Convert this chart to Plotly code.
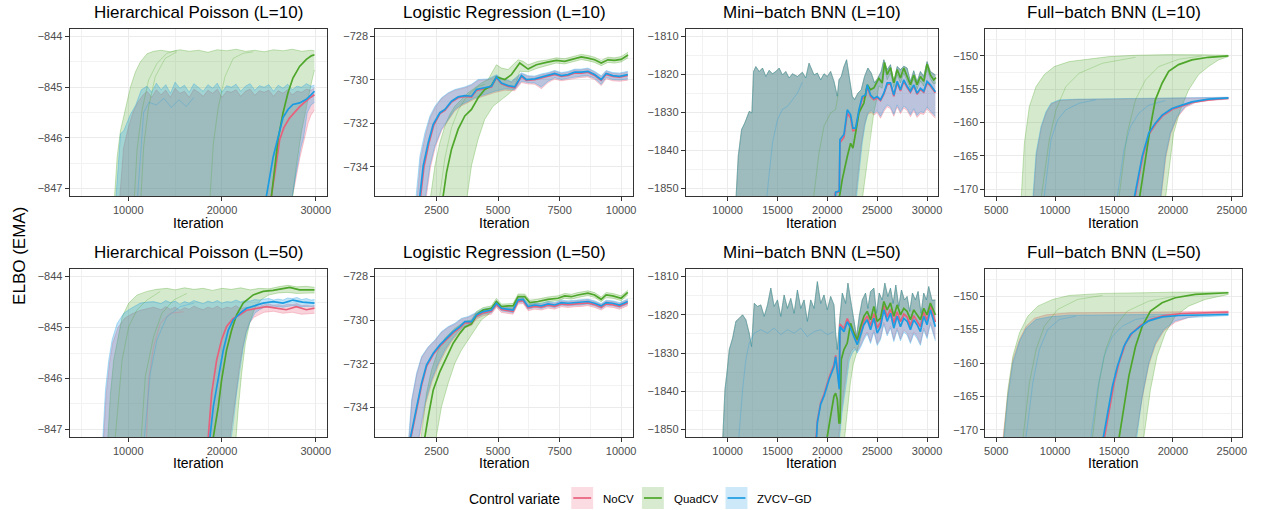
import plotly.graph_objects as go

FONT = "Liberation Sans, Arial, Helvetica, sans-serif"
SERIES = ["NoCV", "QuadCV", "ZVCV−GD"]
SERIES_COLORS = ["#E8617C", "#4EA62A", "#1B9CE2"]
FILL_ALPHA = [0.28, 0.24, 0.28]

# ---------------------------------------------------------------
# ELBO (EMA) traces as (iteration, value) pairs.
# *_MEAN: average over runs, *_HI / *_LO: ribbon envelope,
# *_RUN*: individual runs drawn faintly inside the envelope.
# ---------------------------------------------------------------

# Hierarchical Poisson, L=10
HP10_NOCV_MEAN = [(24900, -847.6), (25400, -847.03), (25800, -846.5), (26150, -846.04), (26600, -845.8), (27200, -845.61),
                  (27700, -845.5), (28270, -845.39), (28800, -845.3), (29300, -845.22), (29860, -845.15)]
HP10_NOCV_HI = [(9000, -847.4), (9500, -846.2), (10000, -845.8), (10500, -845.5), (11000, -845.3), (11600, -845.15),
                (12000, -845.08), (12500, -845.2), (13000, -845.05), (13500, -845.15), (14000, -845.06), (14500, -845.2),
                (15000, -845.02), (15500, -845.12), (16000, -845.08), (16500, -845.2), (17000, -845.04), (17500, -845.1),
                (18000, -845.18), (18500, -845.06), (19000, -845.12), (19500, -845.04), (20000, -845.2), (20500, -845.08),
                (21000, -845.1), (21500, -845.05), (22000, -845.18), (22500, -845.08), (23000, -845.04), (23500, -845.16),
                (24000, -845.07), (24500, -845.1), (25000, -845.06), (25500, -845.18), (26000, -845.07), (26500, -845.12),
                (27000, -845.05), (27500, -845.15), (28000, -845.08), (28500, -845.1), (29000, -845.04), (29500, -845.06),
                (29860, -845.02)]
HP10_NOCV_LO = [(27200, -847.4), (27800, -846.9), (28300, -846.4), (28700, -846.1), (29200, -845.7), (29500, -845.55),
                (29860, -845.45)]
HP10_QUAD_MEAN = [(25000, -847.6), (25270, -847.15), (25630, -846.56), (25980, -846.03), (26510, -845.51), (27040, -845.11),
                  (27570, -844.82), (28280, -844.59), (29000, -844.45), (29530, -844.38), (29860, -844.36)]
HP10_QUAD_HI = [(8455, -847.4), (8815, -846.38), (9170, -845.86), (9700, -845.4), (10230, -845.0), (10760, -844.7),
                (11290, -844.5), (12000, -844.34), (12700, -844.29), (13500, -844.27), (14500, -844.3), (15500, -844.26),
                (16500, -844.29), (17500, -844.27), (18500, -844.31), (19500, -844.26), (20500, -844.28), (21500, -844.25),
                (22500, -844.29), (23500, -844.27), (24500, -844.3), (25500, -844.26), (26500, -844.28), (27500, -844.25),
                (28500, -844.29), (29500, -844.27), (29860, -844.28)]
HP10_QUAD_LO = [(27400, -847.4), (27930, -846.56), (28460, -845.9), (29000, -845.37), (29530, -844.92), (29860, -844.66)]
HP10_QUAD_RUN1 = [(10580, -847.4), (10940, -846.24), (11470, -845.45), (12170, -844.86), (13060, -844.53), (14120, -844.33),
                  (15190, -844.27)]
HP10_QUAD_RUN2 = [(11290, -847.4), (11640, -846.18), (12170, -845.39), (12880, -844.79), (13940, -844.43), (15190, -844.3)]
HP10_QUAD_RUN3 = [(18650, -847.4), (19080, -846.11), (19610, -845.39), (20320, -844.79), (21200, -844.43), (22260, -844.33),
                  (23330, -844.3)]
HP10_ZVCV_MEAN = [(24500, -847.6), (24740, -847.15), (25450, -846.39), (25980, -846.0), (26510, -845.6), (27040, -845.44),
                  (27570, -845.34), (28280, -845.31), (29000, -845.24), (29500, -845.15), (29870, -845.08)]
HP10_ZVCV_HI = [(8600, -847.4), (9170, -845.92), (9520, -845.86), (10200, -845.55), (10800, -845.35), (11400, -845.05),
                (12000, -844.98), (12500, -845.1), (13000, -844.92), (13500, -845.05), (14000, -844.95), (14500, -845.12),
                (15000, -844.9), (15500, -845.02), (16000, -844.96), (16500, -845.1), (17000, -844.93), (17500, -845.0),
                (18000, -845.08), (18500, -844.95), (19000, -845.02), (19500, -844.92), (20000, -845.1), (20500, -844.97),
                (21000, -845.0), (21500, -844.94), (22000, -845.08), (22500, -844.98), (23000, -844.93), (23500, -845.06),
                (24000, -844.97), (24500, -845.0), (25000, -844.95), (25500, -845.08), (26000, -844.96), (26500, -845.02),
                (27000, -844.94), (27500, -845.05), (28000, -844.98), (28500, -845.0), (29000, -844.93), (29500, -844.98),
                (29860, -844.96)]
HP10_ZVCV_LO = [(27300, -847.4), (27800, -846.8), (28400, -846.2), (28700, -846.0), (29100, -845.5), (29500, -845.35),
                (29860, -845.3)]
HP10_ZVCV_RUN1 = [(10900, -847.4), (11300, -846.3), (11640, -845.5), (12200, -845.3), (13000, -845.35), (13800, -845.22),
                  (14600, -845.4), (15400, -845.25), (16200, -845.38), (17000, -845.2)]

# Hierarchical Poisson, L=50
HP50_NOCV_MEAN = [(18400, -847.6), (18540, -847.15), (18900, -846.29), (19430, -845.64), (19960, -845.24), (20490, -844.98),
                  (21200, -844.82), (21910, -844.75), (22620, -844.66), (23680, -844.62), (24740, -844.59), (25800, -844.62),
                  (26860, -844.65), (27930, -844.59), (29000, -844.65), (29870, -844.62)]
HP50_NOCV_HI = [(7300, -847.4), (7650, -846.3), (8000, -845.7), (8350, -845.3), (8900, -845.0), (9600, -844.82),
                (10300, -844.74), (11300, -844.66), (12000, -844.63), (12700, -844.6), (13500, -844.65), (14000, -844.59),
                (14500, -844.64), (15000, -844.6), (15500, -844.66), (16000, -844.61), (16500, -844.64), (17000, -844.58),
                (17500, -844.62), (18000, -844.65), (18500, -844.6), (19000, -844.63), (19500, -844.58), (20000, -844.64),
                (20500, -844.6), (21000, -844.62), (21500, -844.57), (22000, -844.63), (22500, -844.6), (23000, -844.6),
                (23500, -844.57), (24000, -844.58), (24500, -844.55), (25000, -844.54), (25500, -844.56), (26000, -844.55),
                (26500, -844.57), (27000, -844.54), (27500, -844.55), (28000, -844.53), (28500, -844.57), (29000, -844.56),
                (29500, -844.58), (29870, -844.57)]
HP50_NOCV_LO = [(20700, -847.4), (21100, -846.9), (21500, -846.3), (21850, -845.8), (22200, -845.4), (22550, -845.1),
                (22900, -844.92), (23400, -844.8), (24000, -844.74), (24500, -844.7), (25500, -844.68), (26500, -844.72),
                (27500, -844.7), (28500, -844.74), (29870, -844.72)]
HP50_NOCV_RUN1 = [(11900, -847.4), (12170, -846.03), (12700, -845.38), (13410, -844.92), (14470, -844.72), (15890, -844.69)]
HP50_QUAD_MEAN = [(18900, -847.6), (19080, -847.15), (19610, -846.55), (19960, -846.03), (20490, -845.44), (21030, -845.05),
                  (21560, -844.75), (22260, -844.52), (23330, -844.36), (24390, -844.29), (25450, -844.27), (26510, -844.23),
                  (27220, -844.21), (28280, -844.26), (29870, -844.26)]
HP50_QUAD_HI = [(7750, -847.4), (8100, -846.3), (8450, -845.64), (8815, -845.31), (9350, -844.79), (10050, -844.52),
                (10940, -844.36), (12000, -844.29), (13000, -844.25), (14120, -844.23), (15000, -844.26), (16000, -844.22),
                (17000, -844.25), (18000, -844.23), (19000, -844.27), (20000, -844.23), (21000, -844.25), (22000, -844.22),
                (23000, -844.26), (24000, -844.23), (25000, -844.24), (26000, -844.2), (27000, -844.17), (28000, -844.2),
                (29000, -844.19), (29870, -844.21)]
HP50_QUAD_LO = [(21400, -847.4), (21730, -846.6), (22100, -845.9), (22500, -845.3), (22970, -844.9), (23500, -844.62),
                (24200, -844.45), (25000, -844.36), (26000, -844.32), (27000, -844.31), (28000, -844.33), (29000, -844.32),
                (29870, -844.32)]
HP50_QUAD_RUN1 = [(8500, -847.4), (9340, -845.64), (10050, -844.98), (10940, -844.65), (12000, -844.46), (13410, -844.29)]
HP50_QUAD_RUN2 = [(11300, -847.4), (11820, -845.96), (12700, -845.18), (13590, -844.72), (14830, -844.46), (16250, -844.33)]
HP50_ZVCV_MEAN = [(18600, -847.6), (18720, -847.15), (19080, -846.55), (19610, -845.96), (20140, -845.44), (20670, -845.05),
                  (21200, -844.85), (21910, -844.72), (22620, -844.62), (23680, -844.56), (24390, -844.52), (25450, -844.49),
                  (26510, -844.52), (27570, -844.46), (28600, -844.5), (29870, -844.52)]
HP50_ZVCV_HI = [(7220, -847.4), (7570, -846.22), (7920, -845.64), (8280, -845.24), (8815, -844.92), (9520, -844.72),
                (10230, -844.63), (11290, -844.52), (12000, -844.5), (12700, -844.49), (13500, -844.53), (14000, -844.47),
                (14500, -844.51), (15000, -844.48), (15500, -844.54), (16000, -844.49), (16500, -844.52), (17000, -844.47),
                (17500, -844.5), (18000, -844.53), (18500, -844.48), (19000, -844.51), (19500, -844.47), (20000, -844.52),
                (20500, -844.49), (21000, -844.5), (21500, -844.46), (22000, -844.5), (22500, -844.47), (23000, -844.48),
                (23500, -844.45), (24000, -844.46), (24500, -844.44), (25000, -844.43), (25500, -844.46), (26000, -844.44),
                (26500, -844.46), (27000, -844.42), (27500, -844.43), (28000, -844.41), (28500, -844.45), (29000, -844.43),
                (29500, -844.46), (29870, -844.45)]
HP50_ZVCV_LO = [(20800, -847.4), (21200, -846.9), (21550, -846.3), (21900, -845.8), (22260, -845.4), (22600, -845.1),
                (22970, -844.9), (23500, -844.72), (24000, -844.65), (24500, -844.6), (25500, -844.58), (26500, -844.6),
                (27500, -844.57), (28500, -844.59), (29870, -844.58)]
HP50_ZVCV_RUN1 = [(11600, -847.4), (12350, -845.9), (13060, -845.24), (14120, -844.79), (15540, -844.59), (17000, -844.52)]

# Logistic Regression, L=10
LR10_NOCV_MEAN = [(1830, -735.6), (1990, -734.0), (2190, -732.92), (2390, -732.08), (2637, -731.55), (2840, -731.4),
                  (3110, -731.02), (3380, -730.82), (3650, -730.76), (3920, -730.79), (4122, -730.48), (4393, -730.41),
                  (4730, -730.33), (4933, -729.9), (5136, -730.18), (5407, -730.3), (5679, -730.36), (5949, -729.84),
                  (6150, -730.02), (6490, -729.99), (6760, -729.9), (7030, -729.84), (7300, -729.74), (7570, -729.84),
                  (7840, -729.79), (8110, -729.68), (8380, -729.68), (8650, -729.64), (8920, -729.79), (9190, -730.02),
                  (9390, -729.74), (9660, -729.84), (9935, -729.87), (10270, -729.79)]
LR10_NOCV_HI = [(1700, -735.6), (1860, -733.6), (2060, -732.5), (2250, -731.72), (2450, -731.27), (2705, -730.86),
                (2975, -730.63), (3245, -730.48), (3650, -730.36), (3920, -730.24), (4190, -730.02), (4595, -729.99),
                (4933, -729.8), (5136, -729.95), (5540, -730.1), (5949, -729.71), (6220, -729.84), (6490, -729.86),
                (6760, -729.76), (7030, -729.7), (7300, -729.6), (7570, -729.7), (7840, -729.65), (8110, -729.54),
                (8380, -729.54), (8650, -729.49), (8920, -729.64), (9190, -729.84), (9390, -729.6), (9660, -729.7),
                (9935, -729.72), (10270, -729.64)]
LR10_NOCV_LO = [(2060, -735.6), (2250, -734.05), (2450, -733.1), (2705, -732.33), (2975, -731.87), (3245, -731.42),
                (3515, -731.19), (3785, -731.04), (4055, -730.88), (4460, -730.73), (4865, -730.58), (5274, -730.47),
                (5679, -730.5), (5949, -730.12), (6220, -730.18), (6490, -730.2), (6760, -730.4), (7030, -730.12),
                (7300, -729.96), (7570, -730.04), (7840, -729.98), (8110, -729.92), (8380, -729.88), (8650, -729.86),
                (8920, -729.98), (9190, -730.26), (9390, -729.94), (9660, -730.04), (9935, -730.06), (10270, -730.01)]
LR10_QUAD_MEAN = [(2700, -735.6), (2773, -735.33), (2908, -734.26), (3110, -733.19), (3380, -732.27), (3650, -731.66),
                  (3920, -731.36), (4190, -730.82), (4460, -730.44), (4730, -730.26), (4933, -729.86), (5274, -729.98),
                  (5540, -729.76), (5880, -729.22), (6220, -729.5), (6555, -729.3), (6960, -729.19), (7365, -729.1),
                  (7705, -729.14), (8110, -729.02), (8380, -728.94), (8650, -728.99), (8920, -729.07), (9190, -729.22),
                  (9460, -729.07), (9730, -729.1), (10000, -729.05), (10280, -728.85)]
LR10_QUAD_HI = [(2233, -735.6), (2436, -733.95), (2637, -732.88), (2840, -732.12), (3043, -731.58), (3245, -731.21),
                (3515, -730.9), (3785, -730.59), (4055, -730.37), (4325, -730.14), (4595, -729.98), (4933, -729.3),
                (5136, -729.45), (5407, -729.52), (5814, -729.07), (6015, -729.14), (6220, -729.3), (6625, -729.14),
                (7030, -729.07), (7365, -728.98), (7705, -729.02), (8110, -728.9), (8380, -728.82), (8650, -728.87),
                (8920, -728.95), (9190, -729.1), (9460, -728.95), (9730, -728.98), (10000, -728.92), (10280, -728.72)]
LR10_QUAD_LO = [(3717, -735.6), (3920, -733.95), (4190, -732.73), (4460, -731.81), (4798, -731.21), (5136, -730.9),
                (5407, -730.67), (5679, -730.37), (5880, -729.6), (6220, -729.62), (6625, -729.45), (7030, -729.32),
                (7365, -729.22), (7705, -729.26), (8110, -729.14), (8380, -729.06), (8650, -729.11), (8920, -729.19),
                (9190, -729.34), (9460, -729.19), (9730, -729.22), (10000, -729.17), (10280, -728.98)]
LR10_ZVCV_MEAN = [(1800, -735.6), (1960, -733.95), (2165, -732.88), (2367, -732.04), (2637, -731.51), (2840, -731.36),
                  (3110, -730.98), (3380, -730.78), (3650, -730.72), (3920, -730.75), (4122, -730.44), (4393, -730.37),
                  (4730, -730.29), (4933, -729.86), (5136, -730.14), (5407, -730.26), (5679, -730.32), (5949, -729.8),
                  (6150, -729.98), (6490, -729.95), (6760, -729.86), (7030, -729.8), (7300, -729.7), (7570, -729.8),
                  (7840, -729.75), (8110, -729.64), (8380, -729.64), (8650, -729.6), (8920, -729.75), (9190, -729.98),
                  (9390, -729.7), (9660, -729.8), (9935, -729.83), (10270, -729.75)]
LR10_ZVCV_HI = [(1650, -735.6), (1827, -733.5), (2030, -732.43), (2233, -731.66), (2436, -731.21), (2705, -730.82),
                (2975, -730.59), (3245, -730.44), (3650, -730.32), (3920, -730.2), (4190, -729.98), (4595, -729.95),
                (4933, -729.76), (5136, -729.91), (5540, -730.06), (5949, -729.67), (6220, -729.8), (6490, -729.82),
                (6760, -729.72), (7030, -729.66), (7300, -729.56), (7570, -729.66), (7840, -729.61), (8110, -729.5),
                (8380, -729.5), (8650, -729.45), (8920, -729.6), (9190, -729.8), (9390, -729.56), (9660, -729.66),
                (9935, -729.68), (10270, -729.6)]
LR10_ZVCV_LO = [(2030, -735.6), (2233, -733.95), (2436, -733.03), (2705, -732.27), (2975, -731.81), (3245, -731.36),
                (3515, -731.13), (3785, -730.98), (4055, -730.82), (4460, -730.67), (4865, -730.52), (5274, -730.41),
                (5679, -730.44), (5949, -730.06), (6220, -730.12), (6490, -730.14), (6760, -730.32), (7030, -730.06),
                (7300, -729.9), (7570, -729.98), (7840, -729.92), (8110, -729.86), (8380, -729.82), (8650, -729.8),
                (8920, -729.92), (9190, -730.2), (9390, -729.88), (9660, -729.98), (9935, -730.0), (10270, -729.95)]
LR10_QUAD_RUN1 = [(2600, -735.6), (2840, -733.6), (3110, -732.2), (3380, -731.4), (3650, -730.9), (3920, -730.55),
                  (4190, -730.3), (4460, -730.2)]

# Logistic Regression, L=50
LR50_NOCV_MEAN = [(1420, -735.6), (1700, -734.02), (1900, -732.95), (2100, -732.1), (2367, -731.57), (2637, -731.19),
                  (2908, -730.88), (3178, -730.58), (3448, -730.35), (3650, -730.12), (3920, -730.12), (4122, -729.81),
                  (4393, -729.66), (4730, -729.59), (4933, -729.28), (5136, -729.51), (5407, -729.56), (5610, -729.59),
                  (5813, -729.13), (6015, -729.1), (6220, -729.43), (6490, -729.36), (6760, -729.4), (7030, -729.31),
                  (7300, -729.36), (7570, -729.25), (7840, -729.28), (8110, -729.25), (8380, -729.25), (8650, -729.2),
                  (8920, -729.28), (9190, -729.4), (9390, -729.25), (9660, -729.28), (9935, -729.36), (10270, -729.2)]
LR50_NOCV_HI = [(1380, -735.6), (1500, -733.7), (1700, -732.48), (1900, -731.7), (2165, -731.25), (2436, -730.94),
                (2705, -730.56), (2975, -730.33), (3245, -730.18), (3515, -729.95), (3785, -729.87), (4055, -729.72),
                (4393, -729.52), (4730, -729.46), (4933, -729.14), (5136, -729.38), (5407, -729.43), (5610, -729.46),
                (5813, -729.0), (6015, -728.97), (6220, -729.3), (6490, -729.23), (6760, -729.27), (7030, -729.18),
                (7300, -729.23), (7570, -729.12), (7840, -729.15), (8110, -729.12), (8380, -729.12), (8650, -729.07),
                (8920, -729.15), (9190, -729.27), (9390, -729.12), (9660, -729.15), (9935, -729.23), (10270, -729.07)]
LR50_NOCV_LO = [(1780, -735.6), (2050, -733.87), (2320, -732.8), (2590, -732.04), (2860, -731.43), (3110, -730.97),
                (3380, -730.59), (3650, -730.33), (3920, -730.24), (4122, -729.94), (4393, -729.79), (4730, -729.72),
                (4933, -729.41), (5136, -729.64), (5407, -729.69), (5610, -729.72), (5813, -729.26), (6015, -729.23),
                (6220, -729.56), (6490, -729.49), (6760, -729.53), (7030, -729.44), (7300, -729.49), (7570, -729.38),
                (7840, -729.41), (8110, -729.38), (8380, -729.38), (8650, -729.33), (8920, -729.41), (9190, -729.53),
                (9390, -729.38), (9660, -729.41), (9935, -729.49), (10270, -729.33)]
LR50_QUAD_MEAN = [(1950, -735.6), (2030, -735.33), (2165, -734.41), (2367, -733.19), (2637, -732.35), (2908, -731.66),
                  (3178, -731.05), (3448, -730.6), (3650, -730.32), (3920, -730.17), (4122, -729.75), (4393, -729.53),
                  (4730, -729.45), (4933, -729.14), (5136, -729.37), (5407, -729.34), (5610, -729.34), (5813, -728.92),
                  (6085, -728.92), (6285, -729.19), (6625, -729.14), (7030, -729.04), (7435, -728.99), (7705, -728.88),
                  (7975, -728.92), (8245, -728.84), (8650, -728.76), (8920, -728.84), (9190, -729.04), (9390, -728.84),
                  (9660, -728.88), (10000, -728.99), (10270, -728.72)]
LR50_QUAD_HI = [(1850, -735.6), (2096, -733.33), (2300, -732.27), (2570, -731.36), (2840, -730.82), (3245, -730.37),
                (3650, -730.06), (3920, -729.98), (4122, -729.6), (4393, -729.42), (4730, -729.34), (4933, -729.0),
                (5136, -729.26), (5407, -729.23), (5610, -729.23), (5813, -728.8), (6085, -728.8), (6285, -729.08),
                (6625, -729.03), (7030, -728.93), (7435, -728.88), (7705, -728.77), (7975, -728.81), (8245, -728.73),
                (8650, -728.65), (8920, -728.73), (9190, -728.93), (9390, -728.73), (9660, -728.77), (10000, -728.88),
                (10270, -728.62)]
LR50_QUAD_LO = [(2450, -735.6), (2705, -733.95), (2975, -732.88), (3245, -731.97), (3515, -731.36), (3785, -730.9),
                (4055, -730.44), (4325, -729.98), (4595, -729.75), (4933, -729.28), (5136, -729.48), (5407, -729.45),
                (5610, -729.45), (5813, -729.04), (6085, -729.04), (6285, -729.3), (6625, -729.25), (7030, -729.15),
                (7435, -729.1), (7705, -728.99), (7975, -729.03), (8245, -728.95), (8650, -728.87), (8920, -728.95),
                (9190, -729.15), (9390, -728.95), (9660, -728.99), (10000, -729.1), (10270, -728.84)]
LR50_ZVCV_MEAN = [(1400, -735.6), (1690, -733.95), (1893, -732.88), (2096, -732.04), (2367, -731.51), (2637, -731.13),
                  (2908, -730.82), (3178, -730.52), (3448, -730.29), (3650, -730.06), (3920, -730.06), (4122, -729.75),
                  (4393, -729.6), (4730, -729.53), (4933, -729.22), (5136, -729.45), (5407, -729.5), (5610, -729.53),
                  (5813, -729.07), (6015, -729.04), (6220, -729.37), (6490, -729.3), (6760, -729.34), (7030, -729.25),
                  (7300, -729.3), (7570, -729.19), (7840, -729.22), (8110, -729.19), (8380, -729.19), (8650, -729.14),
                  (8920, -729.22), (9190, -729.34), (9390, -729.19), (9660, -729.22), (9935, -729.3), (10270, -729.14)]
LR50_ZVCV_HI = [(1354, -735.6), (1488, -733.65), (1690, -732.43), (1893, -731.66), (2165, -731.21), (2436, -730.9),
                (2705, -730.52), (2975, -730.29), (3245, -730.14), (3515, -729.91), (3785, -729.83), (4055, -729.68),
                (4393, -729.48), (4730, -729.42), (4933, -729.1), (5136, -729.34), (5407, -729.39), (5610, -729.42),
                (5813, -728.96), (6015, -728.93), (6220, -729.26), (6490, -729.19), (6760, -729.23), (7030, -729.14),
                (7300, -729.19), (7570, -729.08), (7840, -729.11), (8110, -729.08), (8380, -729.08), (8650, -729.03),
                (8920, -729.11), (9190, -729.23), (9390, -729.08), (9660, -729.11), (9935, -729.19), (10270, -729.03)]
LR50_ZVCV_LO = [(1750, -735.6), (2030, -733.8), (2300, -732.73), (2570, -731.97), (2840, -731.36), (3110, -730.9),
                (3380, -730.52), (3650, -730.26), (3920, -730.17), (4122, -729.87), (4393, -729.72), (4730, -729.65),
                (4933, -729.34), (5136, -729.57), (5407, -729.62), (5610, -729.65), (5813, -729.19), (6015, -729.16),
                (6220, -729.49), (6490, -729.42), (6760, -729.46), (7030, -729.37), (7300, -729.42), (7570, -729.31),
                (7840, -729.34), (8110, -729.31), (8380, -729.31), (8650, -729.26), (8920, -729.34), (9190, -729.46),
                (9390, -729.31), (9660, -729.34), (9935, -729.42), (10270, -729.26)]

# Mini-batch BNN, L=10 (runs share the same upper envelope)
MB10_TOP = [(10833, -1853.0), (11067, -1841.5), (11400, -1834.5), (11733, -1832.7), (12167, -1829.7), (12433, -1830.1),
            (12600, -1819.2), (12833, -1817.9), (13167, -1819.2), (13500, -1818.3), (13833, -1820.5), (14167, -1818.9),
            (14500, -1819.8), (14833, -1819.2), (15167, -1818.3), (15500, -1820.1), (15833, -1819.2), (16167, -1820.9),
            (16500, -1819.8), (17000, -1820.5), (17500, -1819.4), (17833, -1820.9), (18167, -1817.0), (18667, -1820.1),
            (19000, -1819.6), (19333, -1821.4), (19667, -1819.8), (20000, -1820.5), (20333, -1819.2), (20667, -1821.8),
            (21000, -1825.7), (21167, -1821.4), (21400, -1820.5), (21667, -1817.9), (21933, -1816.1), (22167, -1820.1),
            (22500, -1825.7), (22733, -1826.6), (23067, -1824.9), (23400, -1824.0), (23733, -1820.5), (24067, -1818.3),
            (24400, -1819.6), (24733, -1822.2), (25067, -1820.9), (25400, -1819.2), (25667, -1816.1), (26000, -1818.7),
            (26333, -1817.4), (26667, -1822.2), (27000, -1817.9), (27333, -1818.7), (27667, -1817.8), (28000, -1818.3),
            (28333, -1821.8), (28667, -1819.0), (29000, -1821.9), (29333, -1819.2), (29667, -1820.5), (30000, -1816.6),
            (30333, -1819.2), (30833, -1820.1)]
MB10_NOCV_MEAN = [(20700, -1853.0), (20800, -1851.2), (21200, -1850.9), (21267, -1838.0), (21667, -1836.5), (22000, -1830.2),
                  (22333, -1831.4), (22567, -1834.8), (22833, -1834.6), (23167, -1829.8), (23500, -1826.3), (23833, -1825.8),
                  (24000, -1823.2), (24333, -1825.8), (24667, -1826.6), (25000, -1826.1), (25333, -1826.9), (25667, -1825.2),
                  (26000, -1822.6), (26333, -1822.5), (26667, -1825.7), (27000, -1822.2), (27333, -1824.3), (27667, -1821.8),
                  (28000, -1823.4), (28333, -1824.7), (28667, -1823.0), (29000, -1825.2), (29333, -1823.9), (29667, -1824.7),
                  (30000, -1822.2), (30333, -1823.0), (30833, -1824.8)]
MB10_NOCV_LO = [(22800, -1853.0), (23100, -1845.5), (23400, -1838.5), (23700, -1833.5), (24000, -1830.6), (24400, -1830.0),
                (24667, -1830.7), (25000, -1830.0), (25333, -1831.5), (25667, -1829.7), (26000, -1828.5), (26333, -1829.0),
                (26667, -1831.0), (27000, -1828.5), (27333, -1830.3), (27667, -1828.8), (28000, -1829.5), (28333, -1831.1),
                (28667, -1829.5), (29000, -1831.3), (29333, -1830.3), (29667, -1830.5), (30000, -1829.0), (30333, -1830.1),
                (30833, -1831.5)]
MB10_QUAD_MEAN = [(21100, -1853.0), (21267, -1851.5), (21500, -1847.6), (21833, -1843.2), (22000, -1841.6), (22333, -1838.1),
                  (22567, -1839.4), (22833, -1835.4), (23167, -1830.1), (23667, -1827.5), (24000, -1822.7), (24333, -1824.0),
                  (24667, -1823.5), (25167, -1821.0), (25500, -1822.2), (25733, -1816.8), (26000, -1820.0), (26333, -1818.2),
                  (26667, -1822.2), (27000, -1818.7), (27333, -1820.9), (27667, -1818.3), (28000, -1820.5), (28333, -1822.7),
                  (28667, -1820.1), (29000, -1822.7), (29333, -1820.5), (29667, -1821.8), (30000, -1817.2), (30333, -1820.1),
                  (30667, -1821.4), (30900, -1820.8)]
MB10_QUAD_LO = [(23500, -1853.0), (23900, -1845.0), (24200, -1838.0), (24400, -1835.0), (24667, -1830.0), (25000, -1826.0),
                (25167, -1823.0), (25500, -1823.6), (25733, -1818.2), (26000, -1821.4), (26333, -1819.6), (26667, -1823.4),
                (27000, -1820.0), (27333, -1822.2), (27667, -1819.6), (28000, -1821.7), (28333, -1823.8), (28667, -1821.2),
                (29000, -1823.8), (29333, -1821.7), (29667, -1823.0), (30000, -1818.5), (30333, -1821.2), (30667, -1822.5),
                (30900, -1822.2)]
MB10_QUAD_RUN1 = [(18600, -1853.0), (19167, -1840.6), (19667, -1833.6), (20333, -1830.1), (20833, -1829.2), (21100, -1825.0)]
MB10_ZVCV_MEAN = [(20800, -1853.0), (20833, -1851.0), (21200, -1850.7), (21267, -1837.1), (21667, -1835.8), (22000, -1829.3),
                  (22333, -1830.6), (22567, -1834.1), (22833, -1834.1), (23167, -1829.3), (23500, -1825.8), (23833, -1825.4),
                  (24000, -1822.7), (24333, -1825.4), (24667, -1826.3), (25000, -1825.8), (25333, -1826.6), (25667, -1824.9),
                  (26000, -1822.2), (26333, -1822.2), (26667, -1825.4), (27000, -1821.8), (27333, -1824.0), (27667, -1821.4),
                  (28000, -1823.1), (28333, -1824.4), (28667, -1822.7), (29000, -1824.9), (29333, -1823.6), (29667, -1824.4),
                  (30000, -1821.8), (30333, -1822.7), (30833, -1824.5)]
MB10_ZVCV_LO = [(22900, -1853.0), (23200, -1845.0), (23500, -1838.0), (23800, -1833.0), (24100, -1830.0), (24400, -1829.5),
                (24667, -1830.2), (25000, -1829.5), (25333, -1831.0), (25667, -1829.2), (26000, -1828.0), (26333, -1828.5),
                (26667, -1830.5), (27000, -1828.0), (27333, -1829.8), (27667, -1828.3), (28000, -1829.0), (28333, -1830.6),
                (28667, -1829.0), (29000, -1830.8), (29333, -1829.8), (29667, -1830.0), (30000, -1828.5), (30333, -1829.6),
                (30833, -1831.0)]
MB10_ZVCV_RUN1 = [(13900, -1853.0), (14500, -1838.0), (15000, -1831.9), (15500, -1829.2), (16000, -1828.4), (16500, -1826.6),
                  (17000, -1824.9), (17500, -1822.0)]

# Mini-batch BNN, L=50 (runs share the same upper envelope)
MB50_TOP = [(9500, -1853.0), (9733, -1839.6), (9933, -1835.2), (10167, -1829.1), (10500, -1826.1), (10833, -1821.7),
            (11167, -1820.9), (11500, -1820.0), (11833, -1821.3), (12167, -1824.8), (12400, -1828.3), (12667, -1817.0),
            (13000, -1817.8), (13333, -1817.4), (13667, -1820.4), (14000, -1817.4), (14333, -1813.0), (14667, -1817.8),
            (15000, -1816.1), (15333, -1820.4), (15667, -1814.8), (16000, -1818.3), (16333, -1815.7), (16667, -1819.6),
            (17000, -1813.5), (17333, -1818.3), (17667, -1816.1), (18000, -1821.7), (18333, -1816.1), (18667, -1818.3),
            (19000, -1811.3), (19333, -1817.0), (19667, -1814.8), (20000, -1818.7), (20333, -1815.2), (20667, -1817.4),
            (20833, -1824.8), (21000, -1829.1), (21267, -1820.4), (21500, -1814.3), (21833, -1817.0), (22067, -1811.7),
            (22333, -1816.1), (22667, -1821.3), (22933, -1825.7), (23200, -1820.4), (23500, -1816.1), (23833, -1814.3),
            (24067, -1818.3), (24333, -1813.9), (24667, -1813.0), (24933, -1819.6), (25200, -1814.3), (25500, -1816.1),
            (25767, -1811.7), (26067, -1815.2), (26333, -1813.0), (26600, -1817.0), (26867, -1812.2), (27167, -1817.8),
            (27433, -1813.5), (27733, -1816.1), (28000, -1815.2), (28267, -1819.1), (28533, -1814.3), (28833, -1816.1),
            (29100, -1813.9), (29400, -1819.6), (29667, -1814.3), (29933, -1816.1), (30167, -1812.6), (30500, -1816.2),
            (30833, -1816.1)]
MB50_NOCV_MEAN = [(18800, -1853.0), (18900, -1851.5), (19000, -1847.8), (19333, -1843.0), (19667, -1840.8), (20167, -1836.5),
                  (20667, -1833.0), (20833, -1830.6), (21000, -1834.0), (21167, -1838.2), (21200, -1839.0), (21267, -1822.4),
                  (21667, -1823.6), (22000, -1821.0), (22333, -1822.7), (22667, -1824.6), (23000, -1826.8), (23333, -1824.2),
                  (23667, -1821.6), (24000, -1820.3), (24333, -1822.8), (24667, -1819.7), (25000, -1823.5), (25333, -1822.0),
                  (25667, -1817.6), (26000, -1820.6), (26333, -1818.5), (26667, -1822.2), (27000, -1819.2), (27333, -1821.8),
                  (27667, -1819.8), (28000, -1820.6), (28333, -1822.8), (28667, -1820.2), (29000, -1821.5), (29333, -1823.1),
                  (29667, -1819.3), (30000, -1821.5), (30333, -1817.7), (30833, -1821.9)]
MB50_NOCV_LO = [(21100, -1853.0), (21400, -1845.0), (21800, -1837.5), (22100, -1831.5), (22400, -1829.5), (22700, -1828.5),
                (23000, -1829.5), (23333, -1828.0), (23667, -1826.0), (24000, -1824.5), (24333, -1827.0), (24667, -1824.0),
                (25000, -1827.5), (25333, -1826.0), (25667, -1822.0), (26000, -1825.0), (26333, -1823.0), (26667, -1826.5),
                (27000, -1823.5), (27333, -1826.3), (27667, -1824.0), (28000, -1824.8), (28333, -1827.0), (28667, -1824.5),
                (29000, -1825.7), (29333, -1827.5), (29667, -1823.5), (30000, -1825.7), (30333, -1822.0), (30833, -1826.3)]
MB50_QUAD_MEAN = [(19900, -1853.0), (20000, -1851.8), (20333, -1846.5), (20667, -1841.3), (20833, -1840.5), (21000, -1842.2),
                  (21167, -1848.3), (21267, -1848.3), (21400, -1831.7), (21667, -1829.1), (22000, -1827.4), (22333, -1822.2),
                  (22667, -1824.8), (23000, -1826.5), (23333, -1823.1), (23667, -1820.4), (24000, -1819.1), (24333, -1821.3),
                  (24667, -1817.8), (25000, -1821.7), (25333, -1820.9), (25667, -1816.5), (26000, -1818.7), (26333, -1816.9),
                  (26667, -1820.4), (27000, -1817.4), (27333, -1820.0), (27667, -1818.3), (28000, -1819.1), (28333, -1821.3),
                  (28667, -1818.7), (29000, -1820.0), (29333, -1821.3), (29667, -1818.3), (30000, -1820.0), (30333, -1816.9),
                  (30833, -1820.0)]
MB50_QUAD_LO = [(21700, -1853.0), (22000, -1846.0), (22300, -1838.0), (22600, -1833.0), (22900, -1830.5), (23200, -1827.5),
                (23500, -1824.5), (23667, -1822.3), (24000, -1821.0), (24333, -1823.2), (24667, -1819.7), (25000, -1823.6),
                (25333, -1822.8), (25667, -1818.4), (26000, -1820.6), (26333, -1818.8), (26667, -1822.3), (27000, -1819.3),
                (27333, -1821.9), (27667, -1820.2), (28000, -1821.0), (28333, -1823.2), (28667, -1820.6), (29000, -1821.9),
                (29333, -1823.2), (29667, -1820.2), (30000, -1821.9), (30333, -1818.8), (30833, -1821.9)]
MB50_ZVCV_MEAN = [(18900, -1853.0), (18933, -1851.8), (19000, -1848.2), (19333, -1843.4), (19667, -1841.3), (20167, -1837.0),
                  (20667, -1833.6), (20833, -1831.0), (21000, -1834.4), (21167, -1838.7), (21200, -1839.5), (21267, -1823.1),
                  (21667, -1824.4), (22000, -1821.8), (22333, -1823.5), (22667, -1825.7), (23000, -1827.8), (23333, -1825.2),
                  (23667, -1822.6), (24000, -1821.3), (24333, -1823.9), (24667, -1820.9), (25000, -1824.8), (25333, -1823.1),
                  (25667, -1818.7), (26000, -1821.7), (26333, -1819.6), (26667, -1823.5), (27000, -1820.4), (27333, -1823.1),
                  (27667, -1820.9), (28000, -1821.7), (28333, -1823.9), (28667, -1821.3), (29000, -1822.6), (29333, -1824.4),
                  (29667, -1820.4), (30000, -1822.6), (30333, -1818.7), (30833, -1823.1)]
MB50_ZVCV_LO = [(21200, -1853.0), (21500, -1845.0), (21900, -1838.0), (22200, -1832.0), (22500, -1830.0), (22800, -1829.0),
                (23000, -1830.0), (23333, -1828.5), (23667, -1826.5), (24000, -1825.0), (24333, -1827.5), (24667, -1824.5),
                (25000, -1828.0), (25333, -1826.5), (25667, -1822.5), (26000, -1825.5), (26333, -1823.5), (26667, -1827.0),
                (27000, -1824.0), (27333, -1826.8), (27667, -1824.5), (28000, -1825.3), (28333, -1827.5), (28667, -1825.0),
                (29000, -1826.2), (29333, -1828.0), (29667, -1824.0), (30000, -1826.2), (30333, -1822.5), (30833, -1826.8)]
MB50_ZVCV_RUN1 = [(11100, -1853.0), (11500, -1839.6), (11833, -1831.7), (12167, -1827.4), (12667, -1824.8), (13333, -1823.9),
                  (14000, -1824.8), (14667, -1823.5), (15333, -1825.2), (16000, -1823.9), (16667, -1824.8), (17333, -1823.5),
                  (18000, -1825.7), (18667, -1824.4), (19333, -1823.9), (20000, -1825.2), (20667, -1824.4)]

# Full-batch BNN, L=10
FB10_NOCV_MEAN = [(16750, -171.5), (17430, -165.2), (17990, -161.7), (18550, -160.2), (19120, -159.0), (19960, -158.0),
                  (20800, -157.5), (21640, -157.0), (23050, -156.6), (24710, -156.35)]
FB10_NOCV_HI = [(8150, -171.5), (8420, -164.8), (8840, -160.7), (9260, -158.5), (9690, -157.2), (10400, -156.7),
                (11800, -156.55), (14000, -156.5), (16800, -156.45), (19640, -156.42), (22000, -156.38), (24710, -156.25)]
FB10_NOCV_LO = [(18980, -171.5), (19400, -165.2), (19820, -161.7), (20390, -159.2), (21090, -157.7), (21930, -157.0),
                (23050, -156.7), (24710, -156.5)]
FB10_QUAD_MEAN = [(17150, -171.5), (17670, -165.6), (18090, -160.6), (18510, -156.6), (19080, -154.1), (19640, -152.3),
                  (20480, -151.3), (21610, -150.6), (23020, -150.2), (24710, -150.0)]
FB10_QUAD_HI = [(7110, -171.5), (7390, -163.1), (7810, -157.6), (8380, -154.6), (9080, -152.8), (9925, -151.6),
                (11190, -150.85), (12600, -150.5), (14570, -150.1), (16830, -149.9), (19640, -149.8), (22460, -149.82),
                (24710, -149.9)]
FB10_QUAD_LO = [(19360, -171.5), (19640, -167.6), (20060, -161.6), (20630, -158.1), (21330, -155.1), (22180, -152.8),
                (23020, -151.6), (23870, -150.6), (24710, -150.1)]
FB10_QUAD_RUN1 = [(8800, -171.5), (9500, -162.6), (10070, -158.1), (10910, -154.6), (12040, -152.6), (14010, -151.1),
                  (16820, -150.2)]
FB10_QUAD_RUN2 = [(15400, -171.5), (16120, -161.6), (16820, -156.6), (17670, -153.6), (18790, -151.6), (20480, -150.5),
                  (22460, -150.0)]
FB10_ZVCV_MEAN = [(16700, -171.5), (17390, -165.1), (17950, -161.6), (18510, -160.1), (19080, -158.9), (19920, -157.9),
                  (20770, -157.4), (21610, -156.9), (23020, -156.5), (24710, -156.3)]
FB10_ZVCV_HI = [(8100, -171.5), (8380, -164.6), (8800, -160.6), (9220, -158.4), (9650, -157.1), (10350, -156.6),
                (11760, -156.5), (14000, -156.45), (16800, -156.4), (19640, -156.38), (22000, -156.33), (24710, -156.2)]
FB10_ZVCV_LO = [(18940, -171.5), (19360, -165.1), (19780, -161.6), (20350, -159.1), (21050, -157.6), (21890, -156.9),
                (23020, -156.6), (24710, -156.45)]
FB10_ZVCV_RUN1 = [(9050, -171.5), (9650, -162.6), (10210, -159.6), (10910, -158.1), (12040, -157.1), (13450, -156.6)]
FB10_ZVCV_RUN2 = [(15250, -171.5), (15840, -164.1), (16400, -160.6), (17110, -158.6), (17950, -157.4), (19360, -156.7)]

# Full-batch BNN, L=50
FB50_NOCV_MEAN = [(14150, -171.5), (14570, -167.0), (15000, -163.0), (15420, -160.0), (15990, -157.0), (16550, -155.5),
                  (17250, -154.4), (18090, -153.5), (19220, -152.9), (20770, -152.6), (24710, -152.4)]
FB50_NOCV_HI = [(5550, -171.5), (5990, -164.5), (6410, -159.5), (6970, -156.5), (7540, -154.5), (8240, -153.3),
                (9220, -152.8), (11190, -152.5), (15000, -152.45), (20000, -152.35), (24710, -152.25)]
FB50_NOCV_LO = [(16800, -171.5), (17390, -165.3), (17950, -160.3), (18510, -157.3), (19220, -155.2), (20200, -153.9),
                (21330, -153.2), (23020, -152.8), (24710, -152.6)]
FB50_QUAD_MEAN = [(15400, -171.5), (15840, -166.5), (16260, -161.95), (16830, -157.5), (17390, -154.5), (18090, -152.25),
                  (19080, -151.0), (20200, -150.25), (21890, -149.75), (24710, -149.5)]
FB50_QUAD_HI = [(5600, -171.5), (5990, -164.0), (6410, -159.0), (6970, -155.5), (7680, -153.0), (8520, -151.5),
                (9790, -150.5), (11190, -149.9), (14010, -149.6), (16830, -149.5), (20000, -149.42), (24710, -149.4)]
FB50_QUAD_LO = [(17500, -171.5), (18090, -164.0), (18650, -159.0), (19360, -155.5), (20200, -153.0), (21330, -151.5),
                (22740, -150.5), (24710, -149.75)]
FB50_QUAD_RUN1 = [(7250, -171.5), (7810, -163.0), (8380, -158.0), (9080, -154.5), (10210, -152.0), (11900, -150.5),
                  (14010, -149.9)]
FB50_QUAD_RUN2 = [(13150, -171.5), (13720, -163.0), (14290, -158.0), (14990, -154.75), (16120, -152.25), (17950, -150.75),
                  (20200, -150.0)]
FB50_ZVCV_MEAN = [(14050, -171.5), (14430, -167.5), (14860, -163.5), (15280, -160.5), (15840, -157.5), (16400, -155.7),
                  (17110, -154.7), (17950, -153.7), (19080, -153.1), (20490, -152.9), (22460, -152.8), (24710, -152.75)]
FB50_ZVCV_HI = [(5650, -171.5), (5990, -165.0), (6410, -160.0), (6970, -156.8), (7540, -154.8), (8380, -153.5),
                (9500, -153.1), (11190, -152.85), (15000, -152.8), (20000, -152.72), (24710, -152.62)]
FB50_ZVCV_LO = [(16900, -171.5), (17390, -165.0), (17950, -160.0), (18510, -157.0), (19220, -155.0), (20200, -153.7),
                (21330, -153.2), (23020, -153.0), (24710, -152.9)]
FB50_ZVCV_RUN1 = [(7500, -171.5), (8100, -163.0), (8660, -158.0), (9370, -155.0), (10350, -153.5), (11760, -153.0)]
FB50_ZVCV_RUN2 = [(13000, -171.5), (13590, -164.0), (14150, -159.0), (14860, -156.0), (15700, -154.5), (16820, -153.5),
                  (18510, -153.0)]

# ---------------------------------------------------------------
# Panels (row-major) and their series: (mean, upper, lower)
# ---------------------------------------------------------------
PANEL_TITLES = ["Hierarchical Poisson (L=10)", "Logistic Regression (L=10)", "Mini−batch BNN (L=10)",
                "Full−batch BNN (L=10)", "Hierarchical Poisson (L=50)", "Logistic Regression (L=50)",
                "Mini−batch BNN (L=50)", "Full−batch BNN (L=50)"]
PANEL_KIND = ["hp", "lr", "mb", "fb", "hp", "lr", "mb", "fb"]
PANEL_SERIES = [
    [(HP10_NOCV_MEAN, HP10_NOCV_HI, HP10_NOCV_LO), (HP10_QUAD_MEAN, HP10_QUAD_HI, HP10_QUAD_LO),
     (HP10_ZVCV_MEAN, HP10_ZVCV_HI, HP10_ZVCV_LO)],
    [(LR10_NOCV_MEAN, LR10_NOCV_HI, LR10_NOCV_LO), (LR10_QUAD_MEAN, LR10_QUAD_HI, LR10_QUAD_LO),
     (LR10_ZVCV_MEAN, LR10_ZVCV_HI, LR10_ZVCV_LO)],
    [(MB10_NOCV_MEAN, MB10_TOP, MB10_NOCV_LO), (MB10_QUAD_MEAN, MB10_TOP, MB10_QUAD_LO),
     (MB10_ZVCV_MEAN, MB10_TOP, MB10_ZVCV_LO)],
    [(FB10_NOCV_MEAN, FB10_NOCV_HI, FB10_NOCV_LO), (FB10_QUAD_MEAN, FB10_QUAD_HI, FB10_QUAD_LO),
     (FB10_ZVCV_MEAN, FB10_ZVCV_HI, FB10_ZVCV_LO)],
    [(HP50_NOCV_MEAN, HP50_NOCV_HI, HP50_NOCV_LO), (HP50_QUAD_MEAN, HP50_QUAD_HI, HP50_QUAD_LO),
     (HP50_ZVCV_MEAN, HP50_ZVCV_HI, HP50_ZVCV_LO)],
    [(LR50_NOCV_MEAN, LR50_NOCV_HI, LR50_NOCV_LO), (LR50_QUAD_MEAN, LR50_QUAD_HI, LR50_QUAD_LO),
     (LR50_ZVCV_MEAN, LR50_ZVCV_HI, LR50_ZVCV_LO)],
    [(MB50_NOCV_MEAN, MB50_TOP, MB50_NOCV_LO), (MB50_QUAD_MEAN, MB50_TOP, MB50_QUAD_LO),
     (MB50_ZVCV_MEAN, MB50_TOP, MB50_ZVCV_LO)],
    [(FB50_NOCV_MEAN, FB50_NOCV_HI, FB50_NOCV_LO), (FB50_QUAD_MEAN, FB50_QUAD_HI, FB50_QUAD_LO),
     (FB50_ZVCV_MEAN, FB50_ZVCV_HI, FB50_ZVCV_LO)],
]
# faint individual runs: (series index, points)
PANEL_RUNS = [
    [(1, HP10_QUAD_RUN1), (1, HP10_QUAD_RUN2), (1, HP10_QUAD_RUN3), (2, HP10_ZVCV_RUN1)],
    [(1, LR10_QUAD_RUN1)],
    [(1, MB10_QUAD_RUN1), (2, MB10_ZVCV_RUN1)],
    [(1, FB10_QUAD_RUN1), (1, FB10_QUAD_RUN2), (2, FB10_ZVCV_RUN1), (2, FB10_ZVCV_RUN2)],
    [(0, HP50_NOCV_RUN1), (1, HP50_QUAD_RUN1), (1, HP50_QUAD_RUN2), (2, HP50_ZVCV_RUN1)],
    [],
    [(2, MB50_ZVCV_RUN1)],
    [(1, FB50_QUAD_RUN1), (1, FB50_QUAD_RUN2), (2, FB50_ZVCV_RUN1), (2, FB50_ZVCV_RUN2)],
]

# axis ranges and tick spacing per model
AXIS_SPEC = {
    "hp": dict(xrange=[3750, 31250], xdtick=10000, yrange=[-847.15, -843.85], ydtick=1),
    "lr": dict(xrange=[10, 10480], xdtick=2500, yrange=[-735.35, -727.65], ydtick=2),
    "mb": dict(xrange=[5800, 31050], xdtick=5000, yrange=[-1852, -1808], ydtick=10),
    "fb": dict(xrange=[4070, 25870], xdtick=5000, yrange=[-171.05, -145.95], ydtick=5),
}

W, H = 1261, 510
COL_PX = [(69, 328), (376, 635), (688, 941), (989, 1247)]
ROW_PX = [(29, 196), (269, 437)]
TITLE_Y_PX = [12.5, 252.5]
XTITLE_Y_PX = [222.5, 463]


def fx(px):
    return px / W


def fy(py):
    return 1 - py / H


def rgba(hex_color, a):
    h = hex_color.lstrip("#")
    r, g, b = int(h[0:2], 16), int(h[2:4], 16), int(h[4:6], 16)
    return f"rgba({r},{g},{b},{a})"


def xs(pts):
    return [p[0] for p in pts]


def ys(pts):
    return [p[1] for p in pts]


fig = go.Figure()
layout = dict(
    width=W, height=H, autosize=False,
    margin=dict(l=0, r=0, t=0, b=0),
    paper_bgcolor="white", plot_bgcolor="white",
    font=dict(family=FONT, color="black"),
    showlegend=False,
    annotations=[], shapes=[],
)

for i, kind in enumerate(PANEL_KIND):
    n = i + 1
    row, col = divmod(i, 4)
    xref = "x" if n == 1 else f"x{n}"
    yref = "y" if n == 1 else f"y{n}"
    spec = AXIS_SPEC[kind]
    series = PANEL_SERIES[i]

    # ribbons (fill + outline of upper/lower envelope)
    for s, (mean, hi, lo) in enumerate(series):
        color = SERIES_COLORS[s]
        fig.add_trace(go.Scatter(
            x=xs(hi) + xs(lo)[::-1], y=ys(hi) + ys(lo)[::-1],
            mode="lines", fill="toself", fillcolor=rgba(color, FILL_ALPHA[s]),
            line=dict(width=0), hoverinfo="skip", xaxis=xref, yaxis=yref))
        fig.add_trace(go.Scatter(
            x=xs(hi) + [None] + xs(lo), y=ys(hi) + [None] + ys(lo),
            mode="lines", line=dict(color=rgba(color, 0.4), width=0.8),
            hoverinfo="skip", xaxis=xref, yaxis=yref))
    # individual runs
    for s, pts in PANEL_RUNS[i]:
        fig.add_trace(go.Scatter(
            x=xs(pts), y=ys(pts), mode="lines",
            line=dict(color=rgba(SERIES_COLORS[s], 0.35), width=0.8),
            hoverinfo="skip", xaxis=xref, yaxis=yref))
    # mean curves
    for s, (mean, hi, lo) in enumerate(series):
        fig.add_trace(go.Scatter(
            x=xs(mean), y=ys(mean), mode="lines", name=SERIES[s],
            line=dict(color=SERIES_COLORS[s], width=1.7),
            xaxis=xref, yaxis=yref))

    common = dict(
        ticks="outside", ticklen=4, tickwidth=1, tickcolor="#333333",
        tickfont=dict(family=FONT, size=11, color="#4D4D4D"),
        showgrid=True, gridcolor="#EBEBEB", gridwidth=1.1,
        showline=True, linecolor="#333333", linewidth=1, mirror=True,
        zeroline=False, tickmode="linear", tick0=0,
    )
    x0, x1 = COL_PX[col]
    yt, yb = ROW_PX[row]
    layout["xaxis" if n == 1 else f"xaxis{n}"] = dict(
        common, domain=[fx(x0), fx(x1)], range=spec["xrange"], dtick=spec["xdtick"],
        tickformat="d", anchor=yref,
        minor=dict(tickmode="linear", tick0=0, dtick=spec["xdtick"] / 2, showgrid=True,
                   gridcolor="#F2F2F2", gridwidth=0.6, ticks=""))
    layout["yaxis" if n == 1 else f"yaxis{n}"] = dict(
        common, domain=[fy(yb), fy(yt)], range=spec["yrange"], dtick=spec["ydtick"],
        anchor=xref,
        minor=dict(tickmode="linear", tick0=0, dtick=spec["ydtick"] / 2, showgrid=True,
                   gridcolor="#F2F2F2", gridwidth=0.6, ticks=""))

    # panel title and x-axis title
    layout["annotations"].append(dict(
        text=PANEL_TITLES[i], xref="paper", yref="paper",
        x=fx((x0 + x1) / 2), y=fy(TITLE_Y_PX[row]), xanchor="center", yanchor="middle",
        showarrow=False, font=dict(family=FONT, size=17, color="black")))
    layout["annotations"].append(dict(
        text="Iteration", xref="paper", yref="paper",
        x=fx((x0 + x1) / 2), y=fy(XTITLE_Y_PX[row]), xanchor="center", yanchor="middle",
        showarrow=False, font=dict(family=FONT, size=14, color="black")))

# shared y-axis title, centred on the full figure height
layout["annotations"].append(dict(
    text="ELBO (EMA)", xref="paper", yref="paper", x=fx(18), y=fy(256),
    xanchor="center", yanchor="middle", textangle=-90, showarrow=False,
    font=dict(family=FONT, size=17, color="black")))

# legend drawn as keys (light box + line) with labels
LEGEND_Y_PX = (487, 509)
LEGEND_KEY_X_PX = [573, 644, 728]
LEGEND_KEY_W = 22
layout["annotations"].append(dict(
    text="Control variate", xref="paper", yref="paper", x=fx(564), y=fy(498.5),
    xanchor="right", yanchor="middle", showarrow=False,
    font=dict(family=FONT, size=14, color="black")))
for s, name in enumerate(SERIES):
    kx = LEGEND_KEY_X_PX[s]
    layout["shapes"].append(dict(
        type="rect", xref="paper", yref="paper",
        x0=fx(kx), x1=fx(kx + LEGEND_KEY_W), y0=fy(LEGEND_Y_PX[1]), y1=fy(LEGEND_Y_PX[0]),
        fillcolor=rgba(SERIES_COLORS[s], 0.22), line=dict(width=0)))
    layout["shapes"].append(dict(
        type="line", xref="paper", yref="paper",
        x0=fx(kx + 2), x1=fx(kx + LEGEND_KEY_W - 2), y0=fy(498), y1=fy(498),
        line=dict(color=SERIES_COLORS[s], width=1.7)))
    layout["annotations"].append(dict(
        text=name, xref="paper", yref="paper", x=fx(kx + LEGEND_KEY_W + 8), y=fy(498.5),
        xanchor="left", yanchor="middle", showarrow=False,
        font=dict(family=FONT, size=11.5, color="black")))

fig.update_layout(**layout)
fig.write_html("out.html")
